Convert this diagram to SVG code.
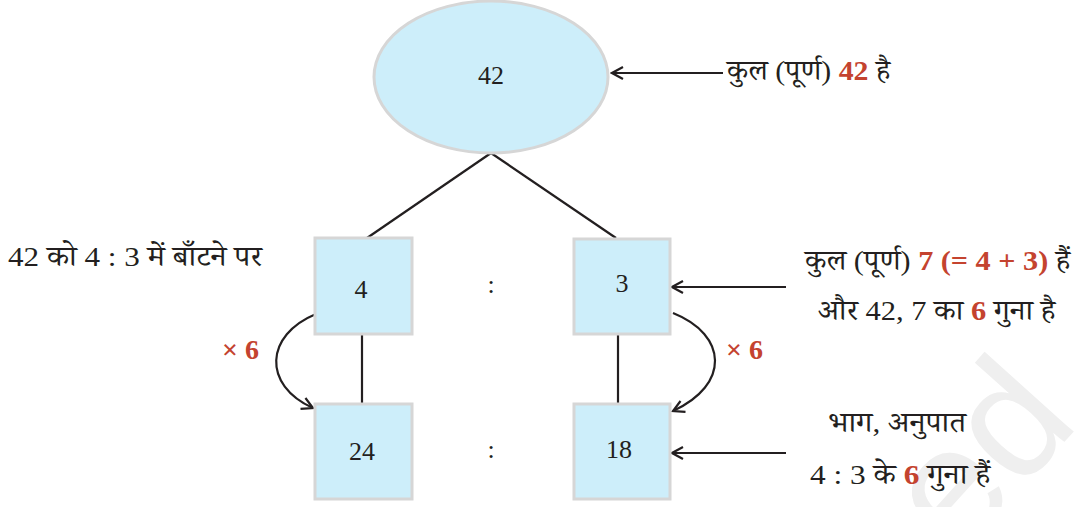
<svg xmlns="http://www.w3.org/2000/svg" width="1086" height="507" viewBox="0 0 1086 507">
<defs>
<style>
.node{fill:#cdeefa;stroke:#d6d6d6;stroke-width:3}
.num{font-family:"Liberation Serif","Noto Serif Devanagari","Noto Sans Devanagari",serif;font-size:26px;fill:#231f20;text-anchor:middle}
.lbl{font-family:"Liberation Serif","Noto Serif Devanagari","Noto Sans Devanagari",serif;font-size:28px;fill:#231f20}
.red{fill:#c4432f;font-weight:bold}
.ln{stroke:#231f20;stroke-width:2.2;fill:none}
.wm{font-family:"Liberation Sans","DejaVu Sans",sans-serif;font-size:165px;fill:#efefef}
</style>
<marker id="ah" viewBox="0 0 14 14" refX="12" refY="7" markerWidth="14" markerHeight="14" markerUnits="userSpaceOnUse" orient="auto">
<path d="M1,1 L12,7 L1,13" fill="none" stroke="#231f20" stroke-width="2.2"/>
</marker>
</defs>
<rect width="1086" height="507" fill="#ffffff"/>
<text class="wm" transform="translate(958,560) rotate(-48)">ed</text>
<g id="connectors">
<path class="ln" d="M491,153 L367,238"/>
<path class="ln" d="M491,153 L616,238"/>
<path class="ln" d="M362,334 L362,404"/>
<path class="ln" d="M618,334 L618,404"/>
<path class="ln" d="M316,314 C265,335 262,385 313,408" marker-end="url(#ah)"/>
<path class="ln" d="M673,313 C728,335 730,385 673,411" marker-end="url(#ah)"/>
<path class="ln" d="M723,73 L612,73" marker-end="url(#ah)"/>
<path class="ln" d="M786,287 L672,287" marker-end="url(#ah)"/>
<path class="ln" d="M786,453 L672,453" marker-end="url(#ah)"/>
</g>
<g id="n42">
<ellipse class="node" cx="491" cy="77" rx="117" ry="76"/>
<text class="num" x="491" y="84">42</text>
</g>
<g id="n4">
<rect class="node" x="315" y="238" width="97" height="96"/>
<text class="num" x="361" y="298">4</text>
</g>
<g id="n3">
<rect class="node" x="574" y="239" width="96" height="95"/>
<text class="num" x="622" y="292">3</text>
</g>
<g id="n24">
<rect class="node" x="315" y="404" width="97" height="95"/>
<text class="num" x="362" y="460">24</text>
</g>
<g id="n18">
<rect class="node" x="574" y="404" width="96" height="95"/>
<text class="num" x="619" y="458">18</text>
</g>
<g id="colons">
<text class="num" x="491" y="293">:</text>
<text class="num" x="491" y="458">:</text>
</g>
<g id="labels">
<text class="lbl" x="727" y="80" textLength="163" lengthAdjust="spacingAndGlyphs">कुल (पूर्ण) <tspan class="red">42</tspan> है</text>
<text class="lbl" x="8" y="266" textLength="254" lengthAdjust="spacingAndGlyphs">42 को 4 : 3 में बाँटने पर</text>
<text class="lbl" x="805" y="270" textLength="265" lengthAdjust="spacingAndGlyphs">कुल (पूर्ण) <tspan class="red">7 (= 4 + 3)</tspan> हैं</text>
<text class="lbl" x="818" y="320" textLength="237" lengthAdjust="spacingAndGlyphs">और 42, 7 का <tspan class="red">6</tspan> गुना है</text>
<text class="lbl red" x="222" y="359">× 6</text>
<text class="lbl red" x="726" y="359">× 6</text>
<text class="lbl" x="828" y="432" textLength="138" lengthAdjust="spacingAndGlyphs">भाग, अनुपात</text>
<text class="lbl" x="810" y="484" textLength="180" lengthAdjust="spacingAndGlyphs">4 : 3 के <tspan class="red">6</tspan> गुना हैं</text>
</g>
</svg>
